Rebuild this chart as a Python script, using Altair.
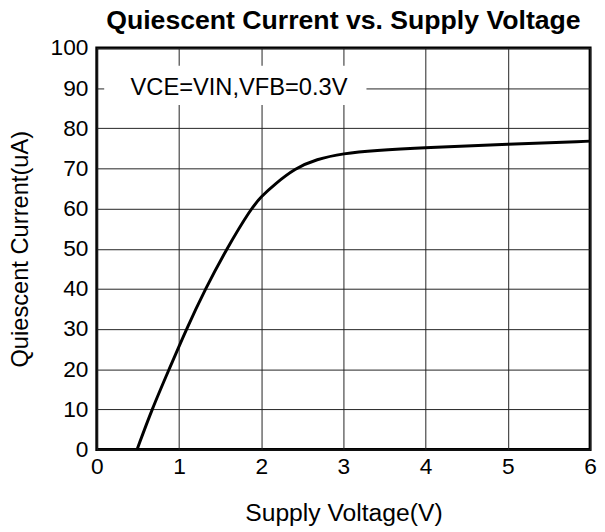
import altair as alt
import pandas as pd

# Curve
voltage = [0.49, 0.67, 0.88, 1.09, 1.32, 1.58, 1.875, 2.0, 2.16, 2.41, 2.67, 3.0, 3.37, 4.0, 5.0, 6.0]
current = [0.0, 10.0, 20.0, 30.0, 40.0, 50.0, 60.0, 63.0, 66.0, 70.0, 72.3, 73.75, 74.5, 75.2, 76.0, 76.8]

x_ticks = [0, 1, 2, 3, 4, 5, 6]
y_ticks = [0, 10, 20, 30, 40, 50, 60, 70, 80, 90, 100]

# Annotation label (text and its white background box, in data units)
note_text = ["VCE=VIN,VFB=0.3V"]
note_x = [1.73]
note_y = [90]
box_x = [0.09]
box_x2 = [3.28]
box_y = [85.8]
box_y2 = [95.6]

FONT = "Liberation Sans"

curve_df = pd.DataFrame({"v": voltage, "i": current})
note_df = pd.DataFrame({"t": note_text, "x": note_x, "y": note_y})
box_df = pd.DataFrame({"x": box_x, "x2": box_x2, "y": box_y, "y2": box_y2})

x_scale = alt.Scale(domain=[0, 6], nice=False, zero=False)
y_scale = alt.Scale(domain=[0, 100], nice=False)

x_axis = alt.Axis(values=x_ticks, title="Supply Voltage(V)", format="d",
                  labelFontSize=23, titleFontSize=25, labelPadding=6, titlePadding=23,
                  ticks=False, domain=False, grid=True, labelFlush=False)
y_axis = alt.Axis(values=y_ticks, title="Quiescent Current(uA)", format="d",
                  labelFontSize=23, titleFontSize=24, labelPadding=9, titlePadding=18,
                  ticks=False, domain=False, grid=True)

line = alt.Chart(curve_df).mark_line(color="black", strokeWidth=3, interpolate="basis").encode(
    x=alt.X("v:Q", scale=x_scale, axis=x_axis),
    y=alt.Y("i:Q", scale=y_scale, axis=y_axis),
)

box = alt.Chart(box_df).mark_rect(fill="white", strokeWidth=0).encode(
    x=alt.X("x:Q", scale=x_scale),
    x2="x2:Q",
    y=alt.Y("y:Q", scale=y_scale),
    y2="y2:Q",
)

text = alt.Chart(note_df).mark_text(font=FONT, fontSize=24, color="black",
                                    align="center", baseline="middle").encode(
    x=alt.X("x:Q", scale=x_scale),
    y=alt.Y("y:Q", scale=y_scale),
    text="t:N",
)

chart = alt.layer(box, text, line).properties(
    width=500,
    height=407,
    background="white",
    title=alt.TitleParams("Quiescent Current vs. Supply Voltage", fontSize=27,
                          fontWeight="bold", font=FONT, color="black",
                          anchor="middle", offset=2),
    autosize=alt.AutoSizeParams(type="none"),
    padding={"left": 90, "top": 37, "right": 7, "bottom": 75},
).configure_view(
    stroke="black", strokeWidth=3
).configure_axis(
    gridColor="#222222", gridWidth=1, gridOpacity=1,
    labelColor="black", titleColor="black",
    labelFont=FONT, titleFont=FONT, titleFontWeight="normal",
)

chart.save("out.html", embed_options={"renderer": "svg", "actions": False})
